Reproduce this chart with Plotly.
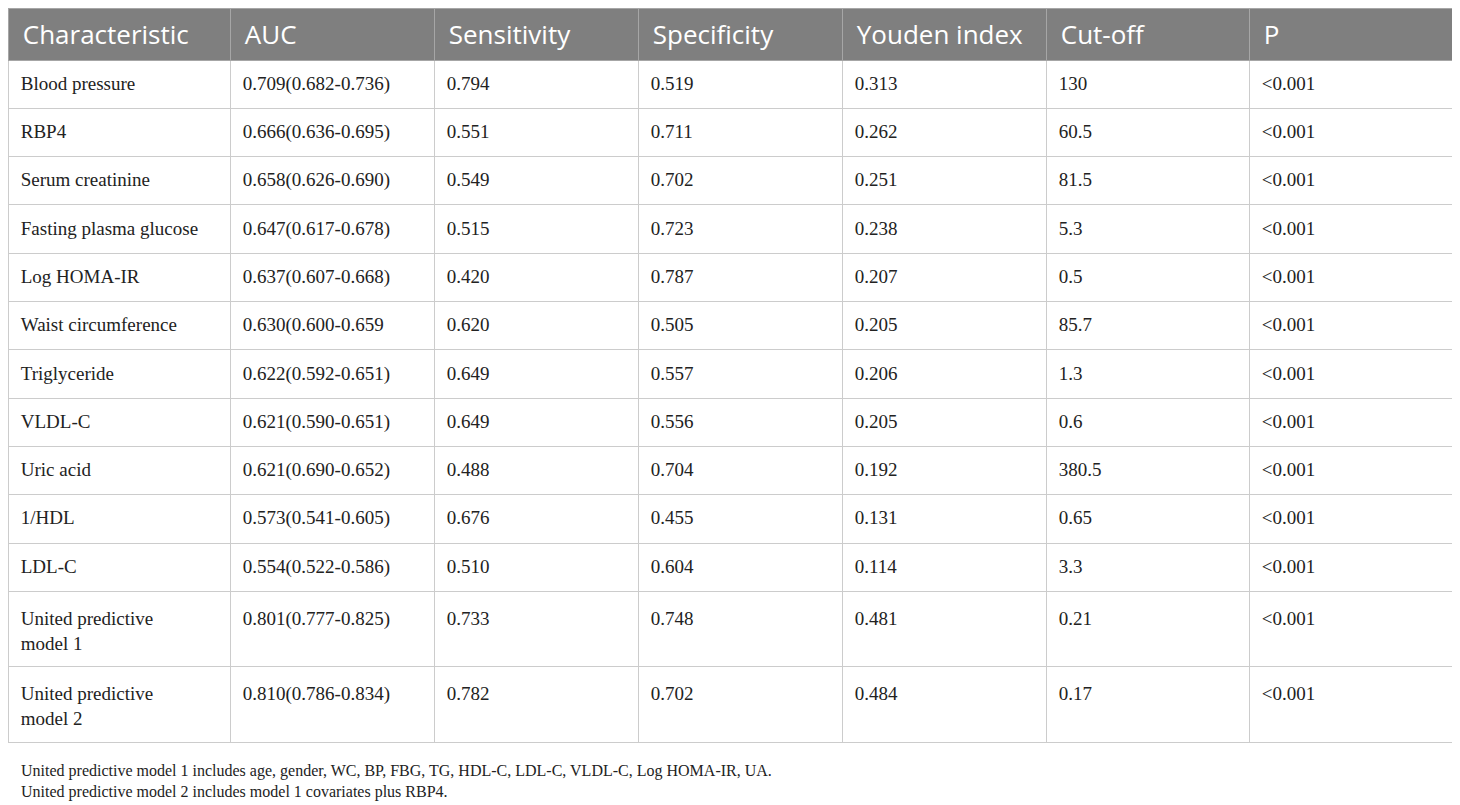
import plotly.graph_objects as go

# table contents
header = ["Characteristic", "AUC", "Sensitivity", "Specificity", "Youden index", "Cut-off", "P"]
characteristic = ["Blood pressure", "RBP4", "Serum creatinine", "Fasting plasma glucose",
                  "Log HOMA-IR", "Waist circumference", "Triglyceride", "VLDL-C", "Uric acid",
                  "1/HDL", "LDL-C", "United predictive<br>model 1", "United predictive<br>model 2"]
auc = ["0.709(0.682-0.736)", "0.666(0.636-0.695)", "0.658(0.626-0.690)", "0.647(0.617-0.678)",
       "0.637(0.607-0.668)", "0.630(0.600-0.659", "0.622(0.592-0.651)", "0.621(0.590-0.651)",
       "0.621(0.690-0.652)", "0.573(0.541-0.605)", "0.554(0.522-0.586)", "0.801(0.777-0.825)",
       "0.810(0.786-0.834)"]
sensitivity = ["0.794", "0.551", "0.549", "0.515", "0.420", "0.620", "0.649", "0.649", "0.488",
               "0.676", "0.510", "0.733", "0.782"]
specificity = ["0.519", "0.711", "0.702", "0.723", "0.787", "0.505", "0.557", "0.556", "0.704",
               "0.455", "0.604", "0.748", "0.702"]
youden = ["0.313", "0.262", "0.251", "0.238", "0.207", "0.205", "0.206", "0.205", "0.192",
          "0.131", "0.114", "0.481", "0.484"]
cutoff = ["130", "60.5", "81.5", "5.3", "0.5", "85.7", "1.3", "0.6", "380.5", "0.65", "3.3",
          "0.21", "0.17"]
p_value = ["<0.001"] * 13

notes = ["United predictive model 1 includes age, gender, WC, BP, FBG, TG, HDL-C, LDL-C, VLDL-C, Log HOMA-IR, UA.",
         "United predictive model 2 includes model 1 covariates plus RBP4."]

# plotly tables pin text to the top of the cell; a 1px spacer line pushes
# the real text down so it sits roughly centred like the original
spacer = "<span style=\"font-size:1px\">\u00a0</span><br>"


def fmt(v, size):
    lines = v.replace("<0", "&lt;0").split("<br>")
    return spacer + "<br>".join(
        f"<span style=\"font-size:{size}px\">\u00a0{s}</span>" for s in lines)


columns = [characteristic, auc, sensitivity, specificity, youden, cutoff, p_value]
cells = [[fmt(v, 19) for v in col] for col in columns]
widths = [222, 204, 204, 204, 204, 203, 203]

W, H = 1460, 805
n_single = 11  # rows with one text line; the two model rows are taller
tall = 75.5

fig = go.Figure()
# header + single-line rows
fig.add_trace(go.Table(
    domain=dict(x=[0, 1], y=[0, 1]),
    columnwidth=widths,
    header=dict(
        values=[fmt(h, 26) for h in header],
        fill_color="#7f7f7f",
        line_color="#a6a6a6",
        align="left",
        height=52,
        font=dict(family="Open Sans", size=20, color="white"),
    ),
    cells=dict(
        values=[col[:n_single] for col in cells],
        fill_color="white",
        line_color="#cccccc",
        align="left",
        height=48.3,
        font=dict(family="Liberation Serif", size=16, color="#222222"),
    ),
))
# two-line model rows (first one carried as the header row of a second table)
top2 = 52 + 48.3 * n_single
two_line_font = dict(family="Liberation Serif", size=19, color="#222222")
fig.add_trace(go.Table(
    domain=dict(x=[0, 1], y=[0, 1 - top2 / H]),
    columnwidth=widths,
    header=dict(
        values=[col[n_single] for col in cells],
        fill_color="white",
        line_color="#cccccc",
        align="left",
        height=tall,
        font=two_line_font,
    ),
    cells=dict(
        values=[col[n_single + 1:] for col in cells],
        fill_color="white",
        line_color="#cccccc",
        align="left",
        height=tall,
        font=two_line_font,
    ),
))

for i, note in enumerate(notes):
    fig.add_annotation(
        text=note, xref="paper", yref="paper", x=11 / (W - 16), y=0.052 - i * 0.026,
        xanchor="left", yanchor="middle", showarrow=False,
        font=dict(family="Liberation Serif", size=16, color="#222222"),
    )

fig.update_layout(
    width=W, height=H,
    margin=dict(l=0, r=16, t=0, b=0),
    paper_bgcolor="white",
)

fig.write_html("out.html")
